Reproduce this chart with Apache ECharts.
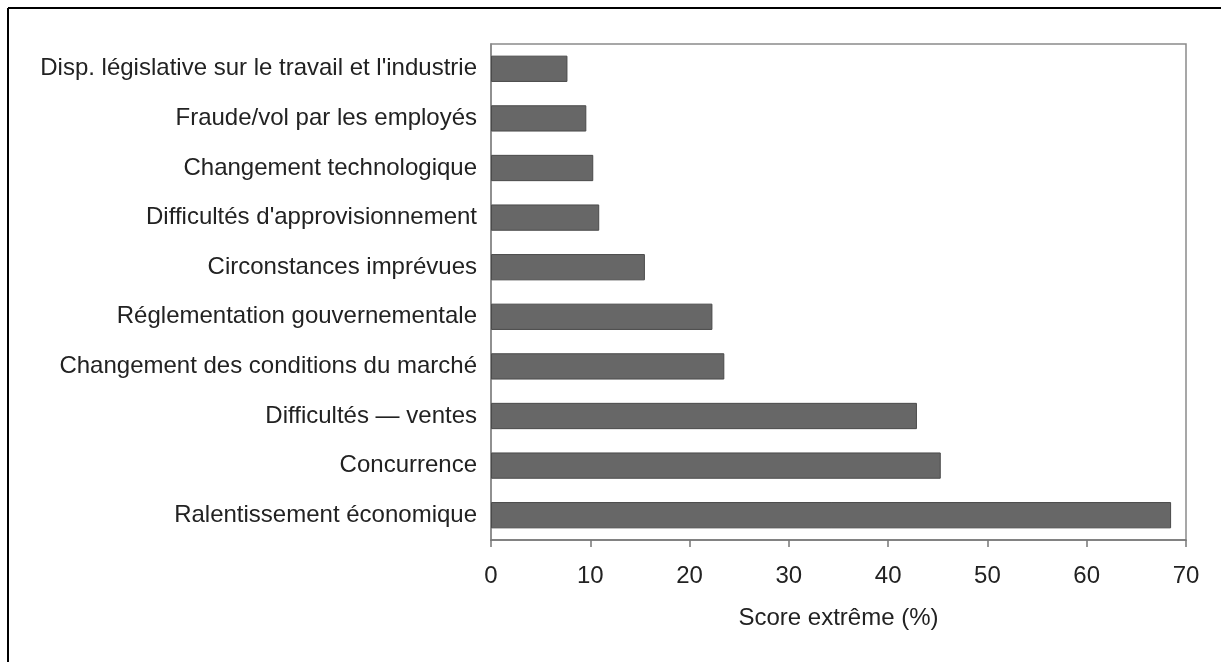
<!DOCTYPE html>
<html>
<head>
<meta charset="utf-8">
<script src="https://cdn.jsdelivr.net/npm/echarts@6/dist/echarts.min.js"></script>
<style>
html,body{margin:0;padding:0;background:#fff;}
#chart{width:1221px;height:662px;}
</style>
</head>
<body>
<div id="chart"></div>
<script>
const categories = [
  "Disp. législative sur le travail et l'industrie",
  "Fraude/vol par les employés",
  "Changement technologique",
  "Difficultés d'approvisionnement",
  "Circonstances imprévues",
  "Réglementation gouvernementale",
  "Changement des conditions du marché",
  "Difficultés — ventes",
  "Concurrence",
  "Ralentissement économique"
];
const values = [7.7, 9.6, 10.3, 10.9, 15.5, 22.3, 23.5, 42.9, 45.3, 68.5];
const xTicks = [0, 10, 20, 30, 40, 50, 60, 70];
const xAxisTitle = "Score extrême (%)";

const chart = echarts.init(document.getElementById('chart'), null, {renderer: 'canvas'});
const font = "'Liberation Sans', Arial, sans-serif";
chart.setOption({
  backgroundColor: '#fff',
  animation: false,
  graphic: [
    {type: 'line', shape: {x1: 8, y1: 8, x2: 1221, y2: 8}, style: {stroke: '#000', lineWidth: 2}},
    {type: 'line', shape: {x1: 8, y1: 8, x2: 8, y2: 662}, style: {stroke: '#000', lineWidth: 2}}
  ],
  grid: {left: 491, top: 44, width: 695, height: 496, show: true, borderColor: '#8a8a8a', borderWidth: 1.5, backgroundColor: '#fff'},
  xAxis: {
    type: 'value', min: xTicks[0], max: xTicks[xTicks.length - 1], interval: 10,
    name: xAxisTitle, nameLocation: 'middle', nameGap: 66,
    nameTextStyle: {fontFamily: font, fontSize: 24, color: '#222'},
    axisLine: {show: true, lineStyle: {color: '#777', width: 1.5}},
    axisTick: {show: true, length: 7, lineStyle: {color: '#777', width: 1.5}},
    axisLabel: {fontFamily: font, fontSize: 24, color: '#222', margin: 24},
    splitLine: {show: false}
  },
  yAxis: {
    type: 'category', data: categories, inverse: true,
    axisLine: {show: true, lineStyle: {color: '#888', width: 1.5}},
    axisTick: {show: false},
    axisLabel: {fontFamily: font, fontSize: 24, color: '#222', margin: 14}
  },
  series: [{
    type: 'bar', data: values, barCategoryGap: '47%',
    itemStyle: {color: '#676767', borderColor: '#4a4a4a', borderWidth: 1}
  }]
});
</script>
</body>
</html>
